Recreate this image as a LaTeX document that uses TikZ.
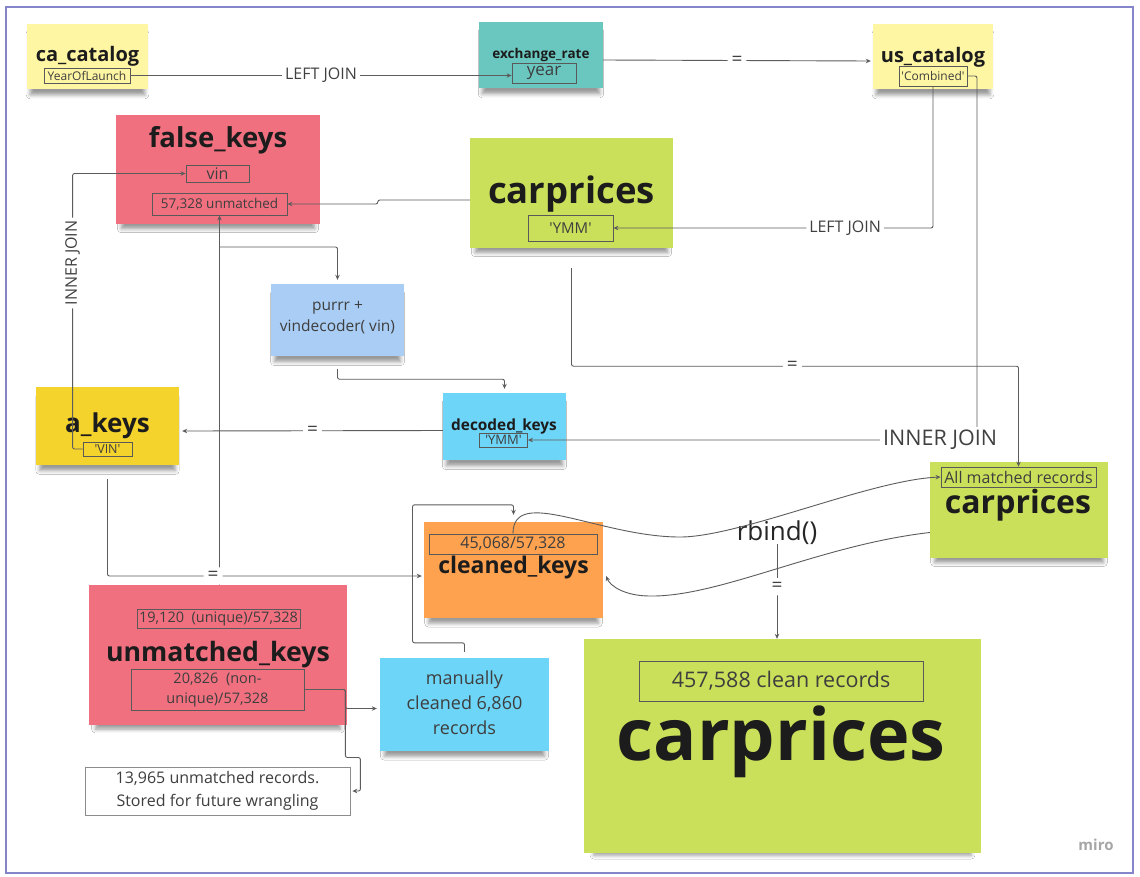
\documentclass[tikz,border=0pt]{standalone}
\usepackage{fontspec}
\setmainfont{Open Sans}
\usetikzlibrary{positioning,arrows.meta,shadows.blur}

\definecolor{frameblue}{HTML}{8585CC}
\definecolor{wire}{HTML}{5C5C5C}
\definecolor{ink}{HTML}{1C1C1C}
\definecolor{notelemon}{HTML}{FFF6A3}
\definecolor{noteteal}{HTML}{6AC7C0}
\definecolor{noterose}{HTML}{F1707F}
\definecolor{notelime}{HTML}{CBE05A}
\definecolor{notesky}{HTML}{A9CDF4}
\definecolor{notegold}{HTML}{F5D32D}
\definecolor{notecyan}{HTML}{6DD5F8}
\definecolor{noteorange}{HTML}{FFA24F}

\tikzstyle{note} = [rectangle, inner sep=0pt, blur shadow={shadow xshift=0pt, shadow yshift=-8pt, shadow scale=0.95, shadow blur radius=4pt, shadow opacity=40}]
\tikzstyle{title} = [inner sep=0pt, anchor=base, text=ink]
\tikzstyle{field} = [rectangle, draw=black!65, line width=0.8pt, inner sep=0pt, text=ink!85, align=center]
\tikzstyle{plain} = [inner sep=0pt, text=ink!85, align=center]
\tikzstyle{lab} = [fill=white, inner sep=3pt, text=black!75, font=\fontsize{16}{19}\selectfont]
\tikzstyle{eq} = [fill=white, inner sep=4pt, text=black!75, font=\fontsize{19}{19}\selectfont]
\tikzstyle{arrow} = [draw=wire, line width=0.9pt, rounded corners=2pt, -{Stealth[length=5pt,width=4.5pt]}]

\begin{document}
\begin{tikzpicture}[x=1pt, y=-1pt]
\useasboundingbox (0,0) rectangle (1140,876);
\fill[white] (0,0) rectangle (1140,876);
\draw[frameblue, line width=2.5pt] (6,7) rectangle (1133,873);

% sticky notes
\node (cacat) [note, fill=notelemon, minimum width=121, minimum height=65] at (87.5,56.5) {};
\node (exrate) [note, fill=noteteal, minimum width=124, minimum height=66] at (541,55) {};
\node (uscat) [note, fill=notelemon, minimum width=120, minimum height=65] at (933,56.5) {};
\node (fkeys) [note, fill=noterose, minimum width=204, minimum height=109] at (218,169.5) {};
\node (carpA) [note, fill=notelime, minimum width=203, minimum height=110] at (571.5,193) {};
\node (purrr) [note, fill=notesky, minimum width=133, minimum height=72] at (337.5,320) {};
\node (akeys) [note, fill=notegold, minimum width=143, minimum height=78] at (107.5,426) {};
\node (decoded) [note, fill=notecyan, minimum width=123, minimum height=67] at (504.5,426.5) {};
\node (carpB) [note, fill=notelime, minimum width=178, minimum height=96] at (1019,509.5) {};
\node (clean) [note, fill=noteorange, minimum width=179, minimum height=96] at (513.5,570) {};
\node (unmk) [note, fill=noterose, minimum width=258, minimum height=140] at (218,655) {};
\node (manual) [note, fill=notecyan, minimum width=169, minimum height=93] at (464.5,704.5) {};
\node (carpC) [note, fill=notelime, minimum width=397, minimum height=214] at (782.5,746) {};
\node (stored) [rectangle, draw=black!45, fill=white, line width=0.8pt, minimum width=265, minimum height=48, plain, font=\fontsize{16}{23}\selectfont] at (217.5,791) {13,965 unmatched records.\\Stored for future wrangling};

% titles
\node (cacatname) [title, font=\bfseries\fontsize{20}{24}\selectfont] at (87.5,61) {ca\_catalog};
\node (exratename) [title, font=\bfseries\fontsize{13.5}{16}\selectfont] at (541,58) {exchange\_rate};
\node (uscatname) [title, font=\bfseries\fontsize{20}{24}\selectfont] at (933,62) {us\_catalog};
\node (fkeysname) [title, font=\bfseries\fontsize{27.5}{32}\selectfont] at (218,147) {false\_keys};
\node (carpAname) [title, font=\bfseries\fontsize{36.5}{42}\selectfont] at (571.5,203) {carprices};
\node (akeysname) [title, font=\bfseries\fontsize{26}{30}\selectfont] at (107.5,432) {a\_keys};
\node (decodedname) [title, font=\bfseries\fontsize{15.4}{18}\selectfont] at (504,430) {decoded\_keys};
\node (carpBname) [title, font=\bfseries\fontsize{32}{38}\selectfont] at (1018,513) {carprices};
\node (cleanname) [title, font=\bfseries\fontsize{23}{28}\selectfont] at (513.5,573) {cleaned\_keys};
\node (unmkname) [title, font=\bfseries\fontsize{26.7}{32}\selectfont] at (218,661) {unmatched\_keys};
\node (carpCname) [title, font=\bfseries\fontsize{72}{80}\selectfont] at (781,760) {carprices};
\node (purrrtext) [plain, font=\fontsize{15.5}{21}\selectfont] at (337.5,318) {purrr +\\vindecoder( vin)};
\node (manualtext) [plain, font=\fontsize{18}{25}\selectfont] at (464.5,703) {manually\\cleaned 6,860\\records};

% fields
\node (yol) [field, minimum width=86, minimum height=15, font=\fontsize{12}{14}\selectfont] at (87,75.5) {YearOfLaunch};
\node (year) [field, minimum width=64, minimum height=20, font=\fontsize{17}{20}\selectfont] at (544,73) {year};
\node (comb) [field, minimum width=68, minimum height=20, font=\fontsize{12}{14}\selectfont] at (933,76) {\textquotesingle Combined\textquotesingle};
\node (vin) [field, minimum width=63, minimum height=17, font=\fontsize{16}{18}\selectfont] at (217.5,173.5) {vin};
\node (unm57) [field, minimum width=135, minimum height=22, font=\fontsize{13.5}{16}\selectfont] at (219.5,204) {57,328 unmatched};
\node (ymmA) [field, minimum width=85, minimum height=26, font=\fontsize{15}{18}\selectfont] at (570.5,228) {\textquotesingle YMM\textquotesingle};
\node (vinA) [field, minimum width=49, minimum height=14, font=\fontsize{12.5}{14}\selectfont] at (107.5,449) {\textquotesingle VIN\textquotesingle};
\node (ymmB) [field, minimum width=48, minimum height=14, font=\fontsize{13}{14}\selectfont] at (503.5,440) {\textquotesingle YMM\textquotesingle};
\node (allm) [field, minimum width=155, minimum height=20, font=\fontsize{16}{18}\selectfont] at (1018.5,477) {All matched records};
\node (cnt) [field, minimum width=168, minimum height=20, font=\fontsize{16}{18}\selectfont] at (513,544) {45,068/57,328};
\node (uniq) [field, minimum width=163, minimum height=19, font=\fontsize{14.5}{17}\selectfont] at (218.5,618.5) {19,120\ \ (unique)/57,328};
\node (nonu) [field, minimum width=173, minimum height=41, font=\fontsize{14.5}{20}\selectfont] at (217.5,689.5) {20,826\ \ (non-\\unique)/57,328};
\node (total) [field, minimum width=284, minimum height=40, font=\fontsize{21.5}{24}\selectfont] at (781,681) {457,588 clean records};

% joins
\draw [arrow] (yol.east) -- node[lab] {LEFT JOIN} (yol.east -| year.west);
\draw [arrow] ([yshift=-5pt]exrate.east) -- node[eq] {=} ([yshift=-4.5pt,xshift=-2pt]uscat.west);
\draw [arrow] (comb.south) |- node[lab, pos=0.6375] {LEFT JOIN} (ymmA.east);
\coordinate (ijturn) at (977,440);
\draw [arrow] (comb.east) -| (ijturn) -- node[lab, pos=0.082, font=\fontsize{21.5}{24}\selectfont] {INNER JOIN} (ymmB.east);
\draw [arrow] ([yshift=-7pt]carpA.west) -- ++(-92,0) |- (unm57.east);
\draw [arrow] (unmk.north -| unm57.south) -- (unm57.south);
\coordinate (fork) at (unm57.south |- 0,247);
\draw [arrow] (fork) -| ([yshift=4pt]purrr.north);
\draw [arrow] ([yshift=-13pt]purrr.south) -- ++(0,10) -| ([yshift=4pt]decoded.north);
\draw [arrow] ([yshift=-4pt]decoded.west) -- node[eq] {=} ([yshift=-5pt,xshift=3pt]akeys.east);
\draw [arrow] (vinA.west) -- ++(-10,0) |- node[lab, rotate=90, pos=0.3375] {INNER JOIN} (vin.west);
\draw [arrow] ([yshift=-20pt]carpA.south) -- ++(0,98) -| node[eq, pos=0.247] {=} (allm.north);
\draw [arrow] ([yshift=-14pt]akeys.south) |- node[eq, pos=0.668] {=} ([yshift=-6pt,xshift=-2pt]clean.west);
\draw [arrow] ([yshift=6pt]manual.north) -- ++(0,-9) -| ++(-52,-138) -| ([yshift=7pt]clean.north);
\draw [arrow] (nonu.east) -- ++(41,0) |- ([yshift=-4pt,xshift=-3pt]manual.west);
\draw [arrow] (nonu.east) -- ++(41,0) -- ++(0,68) -- ++(15,0) |- ([xshift=2pt]stored.east);

% rbind
\node (rbind) [title, font=\fontsize{26}{30}\selectfont, text=black!85] at (777,540) {rbind()};
\draw [arrow, rounded corners=0pt] (cnt.north) .. controls (513,485) and (600,537) .. (680,537) .. controls (740,537) and (870,480) .. (allm.west);
\draw [arrow, rounded corners=0pt] ([yshift=-23pt]carpB.west) .. controls (820,545) and (720,597) .. (650,596) .. controls (625,596) and (610,586) .. ([yshift=-6pt,xshift=3pt]clean.east);
\draw [arrow] (rbind.south) -- node[eq, pos=0.45] {=} (rbind.south |- carpC.north);

\node (miro) [inner sep=0pt, text=black!35, font=\bfseries\fontsize{15}{18}\selectfont] at (1096,845) {miro};
\end{tikzpicture}
\end{document}
